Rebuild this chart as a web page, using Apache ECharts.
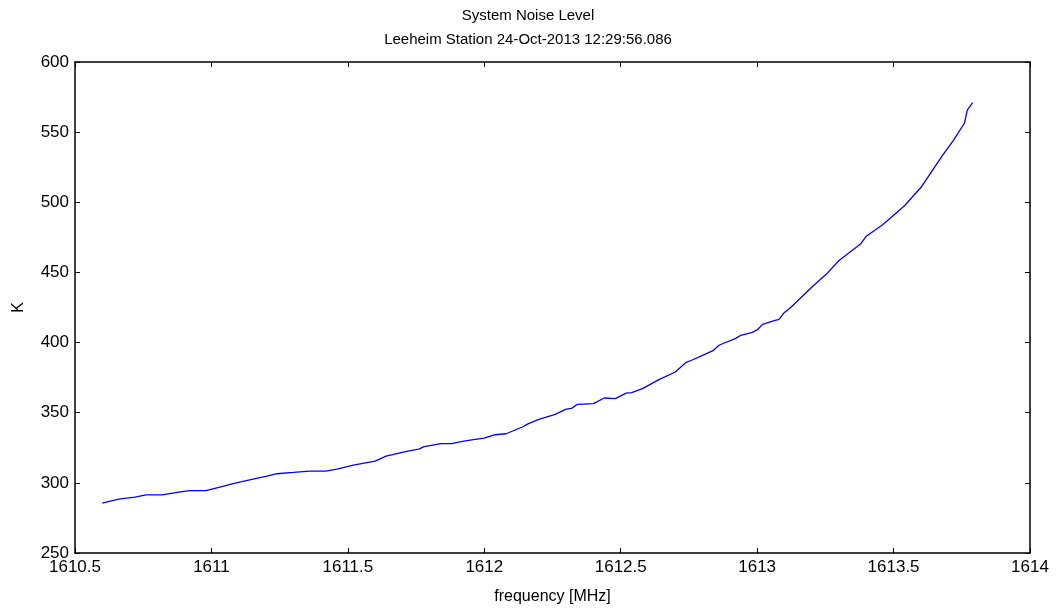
<!DOCTYPE html>
<html>
<head>
<meta charset="utf-8">
<script src="https://cdn.jsdelivr.net/npm/echarts@6/dist/echarts.min.js"></script>
<style>
html,body{margin:0;padding:0;background:#fff;}
#chart{width:1056px;height:610px;}
</style>
</head>
<body>
<div id="chart"></div>
<script>
// frequency [MHz] and noise level [K]
var freq = [1610.60,1610.66,1610.72,1610.76,1610.82,1610.88,1610.92,1610.98,1611.02,1611.08,
            1611.14,1611.20,1611.24,1611.30,1611.36,1611.42,1611.46,1611.52,1611.60,1611.64,
            1611.72,1611.76,1611.78,1611.84,1611.88,1611.92,1611.96,1612.00,1612.04,1612.08,
            1612.14,1612.16,1612.20,1612.26,1612.30,1612.32,1612.34,1612.40,1612.44,1612.48,
            1612.52,1612.54,1612.58,1612.64,1612.70,1612.74,1612.76,1612.80,1612.84,1612.86,
            1612.88,1612.92,1612.94,1612.98,1613.00,1613.02,1613.06,1613.08,1613.10,1613.12,
            1613.16,1613.20,1613.26,1613.30,1613.38,1613.40,1613.46,1613.54,1613.60,1613.64,
            1613.68,1613.72,1613.76,1613.77,1613.79];
var kelvin = [285.5,288.4,289.8,291.5,291.5,293.4,294.4,294.4,296.5,299.4,
              302.2,304.6,306.5,307.4,308.4,308.4,309.8,312.6,315.5,319.0,
              322.6,324.0,325.8,327.9,327.9,329.6,330.8,331.9,334.3,335.0,
              339.8,342.0,345.2,348.8,352.6,353.1,355.9,356.5,360.5,360.0,
              364.0,364.3,367.2,373.6,379.0,385.9,387.4,390.9,394.5,398.1,
              399.7,402.8,405.2,407.1,409.0,413.0,415.4,416.5,421.5,424.5,
              432.0,439.5,450.0,458.5,470.5,475.8,484.0,497.5,510.5,522.0,
              533.6,544.3,556.5,565.7,571.0];
var titleLines = ['System Noise Level', 'Leeheim Station 24-Oct-2013 12:29:56.086'];

var pts = [];
for (var i = 0; i < freq.length; i++) {
    pts.push([freq[i], kelvin[i]]);
}

var fnt = 'Arial, "Liberation Sans", sans-serif';
var lineSt = {color: '#000', width: 1.5};
var chart = echarts.init(document.getElementById('chart'));
var option = {
    animation: false,
    backgroundColor: '#fff',
    title: {
        text: titleLines.join('\n'),
        left: 'center',
        top: -1,
        textStyle: {fontFamily: fnt, fontSize: 15, fontWeight: 'normal', color: '#000', lineHeight: 24}
    },
    grid: {left: 75, right: 26, top: 62, bottom: 57},
    xAxis: [{
        type: 'value', min: 1610.5, max: 1614, interval: 0.5,
        name: 'frequency [MHz]', nameLocation: 'middle', nameGap: 36,
        nameTextStyle: {fontFamily: fnt, fontSize: 16, color: '#000'},
        axisLine: {show: true, onZero: false, lineStyle: lineSt},
        axisTick: {show: true, inside: true, length: 5, lineStyle: {color: '#000'}},
        axisLabel: {fontFamily: fnt, fontSize: 17, color: '#000', margin: 6,
            formatter: function (v) { return String(v); }},
        splitLine: {show: false}
    }, {
        type: 'value', position: 'top', min: 1610.5, max: 1614, interval: 0.5,
        axisLine: {show: true, onZero: false, lineStyle: lineSt},
        axisTick: {show: true, inside: true, length: 5, lineStyle: {color: '#000'}},
        axisLabel: {show: false},
        splitLine: {show: false}
    }],
    yAxis: [{
        type: 'value', min: 250, max: 600, interval: 50,
        name: 'K', nameLocation: 'middle', nameGap: 48,
        nameTextStyle: {fontFamily: fnt, fontSize: 16, color: '#000'},
        axisLine: {show: true, onZero: false, lineStyle: lineSt},
        axisTick: {show: true, inside: true, length: 5, lineStyle: {color: '#000'}},
        axisLabel: {fontFamily: fnt, fontSize: 17, color: '#000', margin: 6},
        splitLine: {show: false}
    }, {
        type: 'value', position: 'right', min: 250, max: 600, interval: 50,
        axisLine: {show: true, onZero: false, lineStyle: lineSt},
        axisTick: {show: true, inside: true, length: 5, lineStyle: {color: '#000'}},
        axisLabel: {show: false},
        splitLine: {show: false}
    }],
    series: [{
        type: 'line',
        data: pts,
        showSymbol: false,
        lineStyle: {color: '#0000ff', width: 1.3},
        itemStyle: {color: '#0000ff'}
    }]
};
chart.setOption(option);
</script>
</body>
</html>
